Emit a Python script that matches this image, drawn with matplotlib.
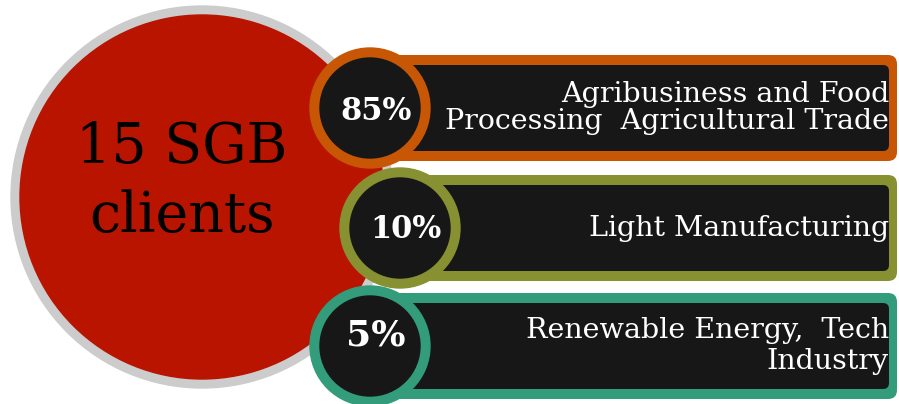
import matplotlib.pyplot as plt
from matplotlib.patches import Circle, FancyBboxPatch

# chart data
shares = [85, 10, 5]
sectors = ['Agribusiness and Food\nProcessing  Agricultural Trade',
           'Light Manufacturing',
           'Renewable Energy,  Tech\nIndustry']
ring_colors = ['#c85705', '#879132', '#339c7a']
title = '15 SGB\nclients'

row_y = [108, 228, 346]
circle_x = [370, 400, 370]
label_gap = [1.0, 1.0, 1.15]
pct_size = [22, 22, 26]
pct_dy = [4, 1, -11]

fig = plt.figure(figsize=(8.99, 4.04), dpi=100)
ax = fig.add_axes([0, 0, 1, 1])
ax.set_xlim(0, 899)
ax.set_ylim(404, 0)
ax.set_aspect('equal')
ax.axis('off')

# big red circle with grey rim
ax.add_patch(Circle((202, 197), 191, color='#cccccc', zorder=1))
ax.add_patch(Circle((202, 197), 182, color='#b81400', zorder=2))
ax.text(182, 182, title, ha='center', va='center', fontsize=40,
        family='DejaVu Serif', color='black', linespacing=1.32, zorder=3)

for i in range(len(shares)):
    y = row_y[i]
    col = ring_colors[i]
    x0 = circle_x[i]
    # bar
    ax.add_patch(FancyBboxPatch((x0, y - 53), 897 - x0, 106,
                                boxstyle='round,pad=0,rounding_size=9',
                                fc=col, ec='none', zorder=4))
    ax.add_patch(FancyBboxPatch((x0, y - 43), 889 - x0, 86,
                                boxstyle='round,pad=0,rounding_size=6',
                                fc='#171717', ec='none', zorder=5))
    # ring
    ax.add_patch(Circle((x0, y), 60, color=col, zorder=6))
    ax.add_patch(Circle((x0, y), 50, color='#171717', zorder=7))
    ax.text(x0 + 6, y + pct_dy[i], f'{shares[i]}%', ha='center', va='center',
            fontsize=pct_size[i], fontweight='bold', family='DejaVu Serif',
            color='white', zorder=8)
    ax.text(889, y, sectors[i], ha='right', va='center', fontsize=20.5,
            family='DejaVu Serif', color='white', linespacing=label_gap[i],
            zorder=8)

fig.savefig('out.png', dpi=100)
